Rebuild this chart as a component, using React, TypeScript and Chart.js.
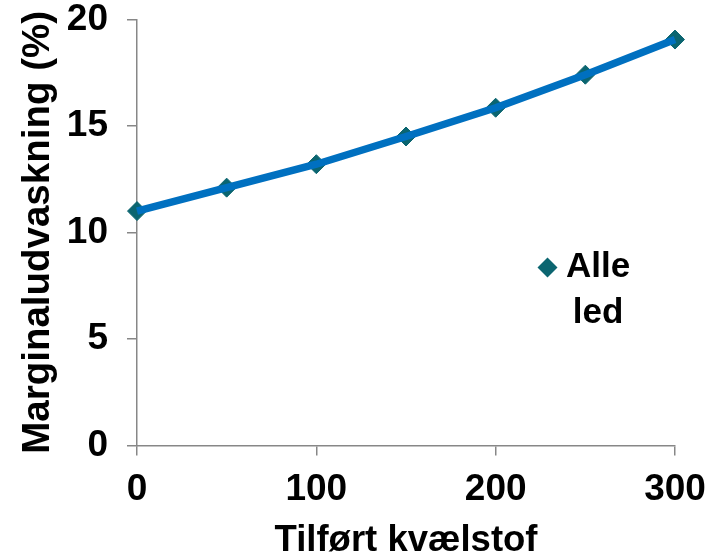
import React, { useEffect, useRef } from "react";
import { Chart, registerables } from "chart.js";

Chart.register(...registerables);

const nitrogenApplied = [0, 50, 100, 150, 200, 250, 300];
const marginalLeaching = [11.0, 12.1, 13.2, 14.5, 15.85, 17.4, 19.05];
const seriesLabel = ["Alle", "led"];
const xTitle = "Tilført kvælstof";
const yTitle = "Marginaludvaskning (%)";

const FONT = "'Liberation Sans', Arial, sans-serif";
const LINE_COLOR = "#0070C0";
const MARKER_COLOR = "#0B6570";
const AXIS_COLOR = "#878787";

const legendPlugin = {
  id: "insideLegend",
  afterDraw(chart: any) {
    const { ctx } = chart;
    const cx = 547.5;
    const cy = 267.5;
    ctx.save();
    ctx.fillStyle = MARKER_COLOR;
    const r = 10;
    ctx.beginPath();
    ctx.moveTo(cx - r, cy);
    ctx.lineTo(cx, cy - r);
    ctx.lineTo(cx + r, cy);
    ctx.lineTo(cx, cy + r);
    ctx.closePath();
    ctx.fill();
    ctx.fillStyle = "#000";
    ctx.font = `bold 35px ${FONT}`;
    ctx.textAlign = "center";
    ctx.textBaseline = "alphabetic";
    const tx = 598;
    ctx.fillText(seriesLabel[0], tx, 277);
    ctx.fillText(seriesLabel[1], tx, 322.5);
    ctx.restore();
  },
};

export default function App() {
  const ref = useRef<HTMLCanvasElement | null>(null);
  useEffect(() => {
    const pts = nitrogenApplied.map((x, i) => ({ x, y: marginalLeaching[i] }));
    const chart = new Chart(ref.current as HTMLCanvasElement, {
      type: "line",
      data: {
        datasets: [
          {
            label: "line",
            data: pts,
            borderColor: LINE_COLOR,
            borderWidth: 7.5,
            pointRadius: 0,
            fill: false,
            tension: 0,
            order: 0,
            clip: false as any,
          },
          {
            label: seriesLabel.join(" "),
            data: pts,
            showLine: false,
            pointStyle: "rectRot",
            pointRadius: 9.5,
            pointBackgroundColor: MARKER_COLOR,
            pointBorderColor: MARKER_COLOR,
            pointBorderWidth: 1,
            order: 1,
            clip: false as any,
          },
        ],
      },
      options: {
        animation: false,
        responsive: true,
        maintainAspectRatio: false,
        layout: { padding: { top: 19.3, right: 40, left: 0, bottom: 0 } },
        plugins: { legend: { display: false }, tooltip: { enabled: false } },
        scales: {
          x: {
            type: "linear",
            min: 0,
            max: 300,
            afterFit: (s: any) => {
              s.height = 112.5;
              s.paddingLeft = 0;
              s.paddingRight = 0;
            },
            ticks: {
              stepSize: 100,
              color: "#000",
              padding: 12.5,
              font: { family: FONT, size: 37, weight: "bold" },
            },
            grid: { drawOnChartArea: false, tickLength: 10, color: AXIS_COLOR, lineWidth: 1.5 },
            border: { color: AXIS_COLOR, width: 1.5 },
            title: {
              display: true,
              text: xTitle,
              color: "#000",
              padding: { top: 0, bottom: -5 },
              font: { family: FONT, size: 36.5, weight: "bold" },
            },
          },
          y: {
            min: 0,
            max: 20,
            afterFit: (s: any) => {
              s.width = 137;
              s.paddingTop = 0;
              s.paddingBottom = 0;
            },
            ticks: {
              stepSize: 5,
              color: "#000",
              padding: 19,
              font: { family: FONT, size: 37, weight: "bold", lineHeight: 1 },
            },
            grid: { drawOnChartArea: false, tickLength: 10, color: AXIS_COLOR, lineWidth: 1.5 },
            border: { color: AXIS_COLOR, width: 1.5 },
            title: {
              display: true,
              text: yTitle,
              color: "#000",
              padding: { top: 15, bottom: 0 },
              font: { family: FONT, size: 38.5, weight: "bold" },
            },
          },
        },
      },
      plugins: [legendPlugin],
    });
    return () => chart.destroy();
  }, []);
  return (
    <div style={{ position: "absolute", left: 0, top: 0, width: 715, height: 558, background: "#fff" }}>
      <canvas ref={ref} />
    </div>
  );
}
